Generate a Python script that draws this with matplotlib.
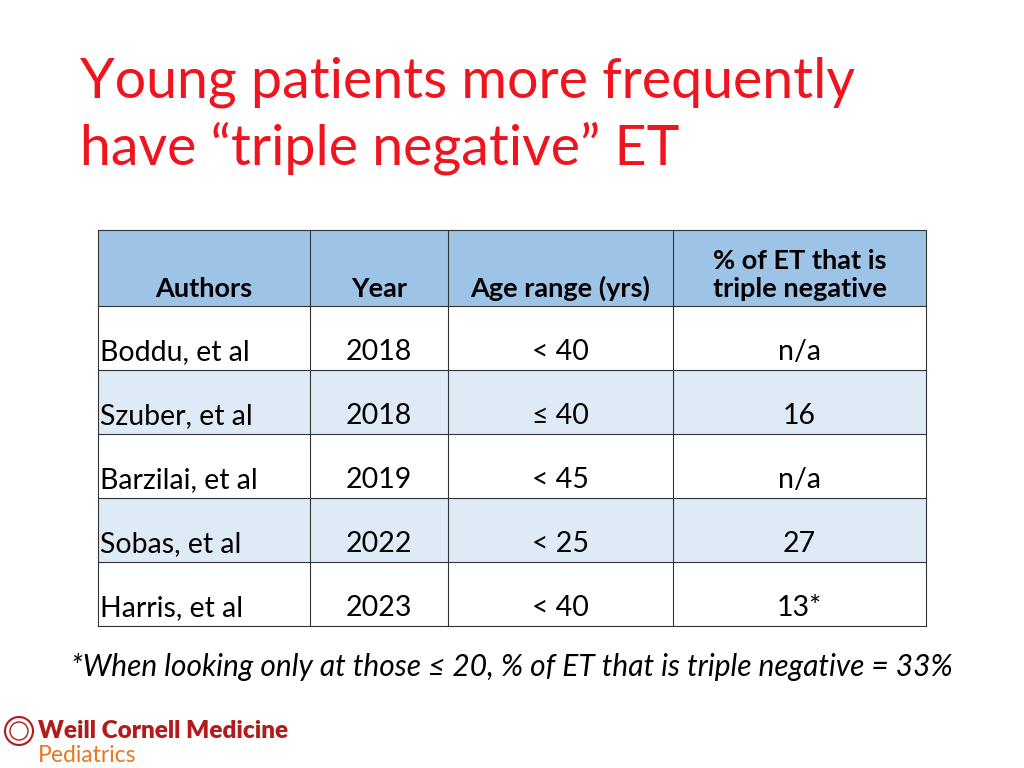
import matplotlib.pyplot as plt
from matplotlib.patches import Rectangle, Circle

FONT = ["Lato", "DejaVu Sans"]

title_lines = ["Young patients more frequently", "have \u201ctriple negative\u201d ET"]
header = ["Authors", "Year", "Age range (yrs)", "% of ET that is\ntriple negative"]
authors = ["Boddu, et al", "Szuber, et al", "Barzilai, et al", "Sobas, et al", "Harris, et al"]
years = ["2018", "2018", "2019", "2022", "2023"]
age_ranges = ["< 40", "\u2264 40", "< 45", "< 25", "< 40"]
pct_triple_neg = ["n/a", "16", "n/a", "27", "13*"]
footnote = "*When looking only at those \u2264 20, % of ET that is triple negative = 33%"

# table layout in pixel coordinates
col_edges = [98, 310, 448, 673, 926]
row_edges = [230, 306, 370, 434, 498, 562, 626]
HEAD_BLUE = "#9DC3E6"
ROW_BLUE = "#DEEBF7"
RED = "#F0141E"


def main():
    fig = plt.figure(figsize=(10.24, 7.68), dpi=100)
    ax = fig.add_axes([0, 0, 1, 1])
    ax.set_xlim(0, 1024)
    ax.set_ylim(768, 0)
    ax.axis("off")

    for i, line in enumerate(title_lines):
        ax.text(80, 82 + i * 66, line, color=RED, fontsize=40, family=FONT,
                va="center", ha="left")

    # fills
    ax.add_patch(Rectangle((col_edges[0], row_edges[0]), col_edges[-1] - col_edges[0],
                           row_edges[1] - row_edges[0], facecolor=HEAD_BLUE, edgecolor="none"))
    for r in range(len(authors)):
        if r % 2 == 1:
            ax.add_patch(Rectangle((col_edges[0], row_edges[r + 1]), col_edges[-1] - col_edges[0],
                                   row_edges[r + 2] - row_edges[r + 1], facecolor=ROW_BLUE,
                                   edgecolor="none"))
    # grid lines
    for x in col_edges:
        ax.plot([x, x], [row_edges[0], row_edges[-1]], color="#333333", lw=0.8)
    for y in row_edges:
        ax.plot([col_edges[0], col_edges[-1]], [y, y], color="#333333", lw=0.8)

    # header
    for c, h in enumerate(header):
        xc = (col_edges[c] + col_edges[c + 1]) / 2
        ax.text(xc, row_edges[1] - 5, h, fontsize=19.5, fontweight="bold", family=FONT,
                ha="center", va="bottom", linespacing=1.2)

    # body
    cols = [authors, years, age_ranges, pct_triple_neg]
    for r in range(len(authors)):
        yb = row_edges[r + 2] - 5
        for c, col in enumerate(cols):
            if c == 0:
                x, ha = col_edges[0] + 2, "left"
            else:
                x, ha = (col_edges[c] + col_edges[c + 1]) / 2, "center"
            ax.text(x, yb, col[r], fontsize=20.5, family=FONT, ha=ha, va="bottom")

    ax.text(512, 667, footnote, fontsize=21.5, family=FONT, style="italic",
            ha="center", va="center")

    # logo
    ax.add_patch(Circle((19, 731), 14, facecolor="none", edgecolor="#B31B1B", lw=1.5))
    ax.add_patch(Circle((19, 731), 9, facecolor="none", edgecolor="#B31B1B", lw=1))
    ax.text(38, 731, "Weill Cornell Medicine", color="#B31B1B", fontsize=17.5,
            fontweight="heavy", family=FONT, va="center", ha="left")
    ax.text(38, 755, "Pediatrics", color="#E87722", fontsize=16.5, family=FONT,
            va="center", ha="left")

    fig.savefig("out.png", dpi=100)


if __name__ == "__main__":
    main()
